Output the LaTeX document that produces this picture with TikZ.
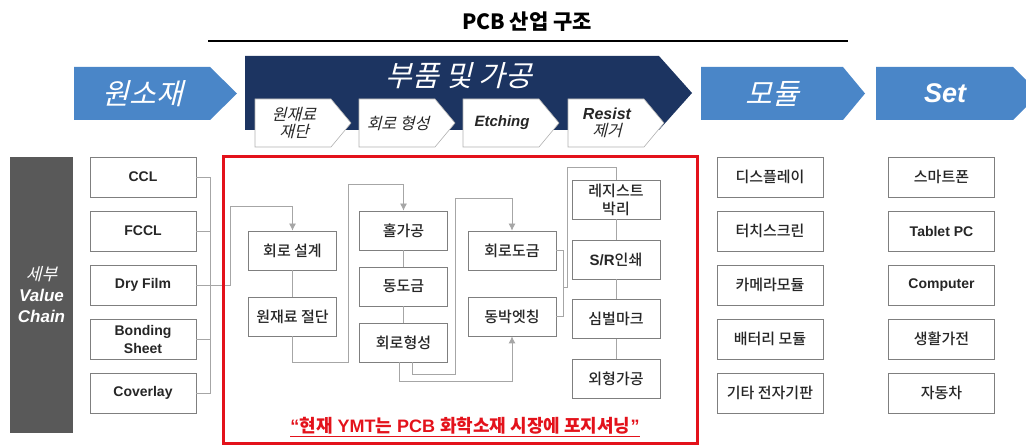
\documentclass[tikz,border=0pt]{standalone}
\usepackage{fontspec}
\setmainfont{Liberation Sans}
\newfontfamily\kr{Noto Sans CJK KR}[BoldFont={Noto Sans CJK KR Medium}]
\newfontfamily\krbf{Noto Sans CJK KR}
\newfontfamily\krsl{Noto Sans CJK KR}[FakeSlant=0.25]
\usetikzlibrary{arrows.meta}

\definecolor{chevblue}{HTML}{4A86C8}
\definecolor{navy}{HTML}{1C3461}
\definecolor{bargray}{HTML}{595959}
\definecolor{linegray}{HTML}{A6A6A6}
\definecolor{boxline}{HTML}{7F7F7F}
\definecolor{ymtred}{HTML}{E3121B}
\definecolor{inkgray}{HTML}{262626}

\tikzset{
  box/.style={draw=boxline, line width=0.8pt, fill=white, inner sep=0pt,
    minimum width=106pt, minimum height=40pt, text=inkgray, align=center},
  engbox/.style={box, font=\bfseries\fontsize{14}{18}\selectfont},
  korbox/.style={box, font=\kr\bfseries\fontsize{15}{18}\selectfont},
  stepbox/.style={korbox, minimum width=88pt, minimum height=39pt},
  conn/.style={draw=linegray, line width=0.8pt},
  arr/.style={conn, -{Latex[length=7pt,width=7pt]}},
  headtext/.style={text=white, font=\krsl\fontsize{29}{30}\selectfont},
  stepchev/.style={fill=white, draw=gray!60, line width=0.6pt},
  steptext/.style={text=inkgray, align=center, font=\krsl\fontsize{16}{17}\selectfont}
}

\begin{document}
\begin{tikzpicture}[x=1pt, y=-1pt]
\useasboundingbox (0,0) rectangle (1026,446);
\clip (0,0) rectangle (1026,446);

% title
\node[font=\krbf\bfseries\fontsize{21}{23}\selectfont] (title) at (527,22) {PCB 산업 구조};
\draw[line width=1.2pt] (208,41) -- (848,41);

% value chain stages
\fill[chevblue] (74,67) -- (210,67) -- (237,93.5) -- (210,120) -- (74,120) -- cycle;
\node[headtext] (raw) at (143,93.5) {원소재};
\fill[navy] (245,56) -- (659,56) -- (692,93) -- (659,130) -- (245,130) -- cycle;
\node[headtext] (parts) at (459,76) {부품 및 가공};
\fill[chevblue] (701,67) -- (843,67) -- (865,93.5) -- (843,120) -- (701,120) -- cycle;
\node[headtext] (module) at (772,93.5) {모듈};
\fill[chevblue] (876,67) -- (1013,67) -- (1040,93.5) -- (1013,120) -- (876,120) -- cycle;
\node[headtext, font=\bfseries\itshape\fontsize{27}{30}\selectfont] (set) at (945,93.5) {Set};

% process steps
\draw[stepchev] (255,99) -- (331,99) -- (351,123) -- (331,147) -- (255,147) -- cycle;
\node[steptext] (cutstep) at (294,123) {원재료\\재단};
\draw[stepchev] (359,99) -- (435,99) -- (455,123) -- (435,147) -- (359,147) -- cycle;
\node[steptext] (circuitstep) at (398,123) {회로 형성};
\draw[stepchev] (463,99) -- (539,99) -- (559,123) -- (539,147) -- (463,147) -- cycle;
\node[steptext, font=\bfseries\itshape\fontsize{15}{16}\selectfont] (etchstep) at (502,123) {Etching};
\draw[stepchev] (568,99) -- (644,99) -- (664,123) -- (644,147) -- (568,147) -- cycle;
\node[steptext] (stripstep) at (607,123) {{\rmfamily\bfseries\itshape Resist}\\제거};

% detail bar
\node[fill=bargray, inner sep=0pt, minimum width=63pt, minimum height=276pt,
  text=white, align=center, font=\bfseries\itshape\fontsize{17}{21}\selectfont] (detail) at (41.5,295)
  {{\krsl\mdseries 세부}\\Value\\Chain};

% raw materials
\node[engbox] (ccl) at (143,177) {CCL};
\node[engbox] (fccl) at (143,231) {FCCL};
\node[engbox] (dryfilm) at (143,285) {Dry Film};
\node[engbox] (bonding) at (143,339) {Bonding\\Sheet};
\node[engbox] (coverlay) at (143,393) {Coverlay};
\draw[conn] (ccl.east) -- ++(14,0) |- (coverlay.east);
\draw[conn] (fccl.east) -- ++(14,0);
\draw[conn] (bonding.east) -- ++(14,0);

% process flow
\node[stepbox] (design) at (292.5,250.5) {회로 설계};
\node[stepbox] (cut) at (292.5,316.5) {원재료 절단};
\node[stepbox] (hole) at (403.5,230.5) {홀가공};
\node[stepbox] (plating) at (403.5,286.5) {동도금};
\node[stepbox] (circuit) at (403.5,342.5) {회로형성};
\node[stepbox] (cplating) at (512,250.5) {회로도금};
\node[stepbox] (etch) at (512,316.5) {동박엣칭};
\node[stepbox] (strip) at (616,199.5) {레지스트\\박리};
\node[stepbox] (srprint) at (616,259.5) {{\rmfamily S/R}인쇄};
\node[stepbox] (symbol) at (616,319) {심벌마크};
\node[stepbox] (outline) at (616,379) {외형가공};

\draw[arr] (dryfilm.east) -| (230,206) -| (design.north);
\draw[conn] (design) -- (cut);
\draw[arr] (cut.south) |- (348,362) -- (348,184) -| (hole.north);
\draw[conn] (hole) -- (plating) -- (circuit);
\draw[arr] ([xshift=-4pt]circuit.south) -- ++(0,19) -| (etch.south);
\draw[arr] ([xshift=9pt]circuit.south) -- ++(0,12) -| (455,198) -| (cplating.north);
\draw[conn] (cplating.east) -- ++(7,0) |- (etch.east);
\draw[conn] (563,287) -| (567,167) -| (strip.north);
\draw[conn] (strip) -- (srprint) -- (symbol) -- (outline);

\node[draw=ymtred, line width=3pt, inner sep=0pt, minimum width=474pt, minimum height=286pt] (focus) at (460,300) {};
\node[text=ymtred, font=\bfseries\fontsize{18}{20}\selectfont] (quote) at (465,427)
  {\underline{“{\krbf 현재} YMT{\krbf 는} PCB {\krbf 화학소재 시장에 포지셔닝}”}};

% modules and sets
\node[korbox] (display) at (770,177) {디스플레이};
\node[korbox] (touch) at (770,231) {터치스크린};
\node[korbox] (camera) at (770,285) {카메라모듈};
\node[korbox] (battery) at (770,339) {배터리 모듈};
\node[korbox] (etcpcb) at (770,393) {기타 전자기판};
\node[korbox] (phone) at (941.5,177) {스마트폰};
\node[engbox] (tablet) at (941.5,231) {Tablet PC};
\node[engbox] (computer) at (941.5,285) {Computer};
\node[korbox] (appliance) at (941.5,339) {생활가전};
\node[korbox] (car) at (941.5,393) {자동차};
\end{tikzpicture}
\end{document}
